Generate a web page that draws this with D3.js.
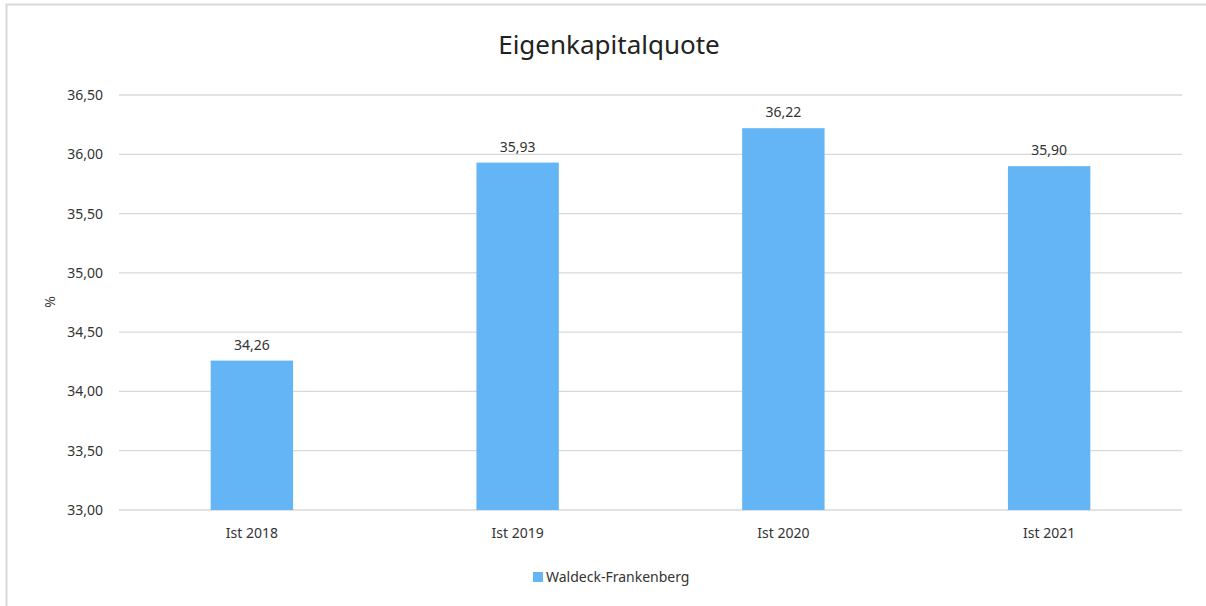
<!DOCTYPE html>
<html><head><meta charset="utf-8">
<script src="https://cdn.jsdelivr.net/npm/d3@7"></script>
<style>body{margin:0;background:#fff;}</style>
</head><body><svg id="c" width="1206" height="606"></svg>
<script>
const categories = ["Ist 2018","Ist 2019","Ist 2020","Ist 2021"];
const values = [34.26,35.93,36.22,35.90];
const yTicks = [33.0,33.5,34.0,34.5,35.0,35.5,36.0,36.5];
const seriesName = "Waldeck-Frankenberg";
const title = "Eigenkapitalquote";
const yLabel = "%";

const svg = d3.select("#c");
const font = "'Noto Sans', sans-serif";
const color = "#64B5F6";
const fmt = v => v.toFixed(2).replace(".", ",");
const fs = 14;

// outer border
svg.append("path").attr("d","M6.5,606 L6.5,4.5 L1206,4.5").attr("fill","none").attr("stroke","#d9d9d9").attr("stroke-width",2);

const m = {l:119, r:1182, t:95, b:510};
const x = d3.scaleBand().domain(categories).range([m.l,m.r]).paddingInner(0.69).paddingOuter(0.345);
const y = d3.scaleLinear().domain([33,36.5]).range([m.b,m.t]);

svg.append("g").selectAll("line").data(yTicks).join("line")
  .attr("x1",m.l).attr("x2",m.r).attr("y1",d=>y(d)).attr("y2",d=>y(d))
  .attr("stroke","#d9d9d9").attr("stroke-width",1.3);

svg.append("g").selectAll("text").data(yTicks).join("text")
  .attr("x",103).attr("y",d=>y(d)+5).attr("text-anchor","end")
  .attr("font-family",font).attr("font-size",fs).attr("fill","#333").text(d=>fmt(d));

svg.append("g").selectAll("rect").data(values).join("rect")
  .attr("x",(d,i)=>x(categories[i])).attr("width",x.bandwidth())
  .attr("y",d=>y(d)).attr("height",d=>y(33)-y(d)).attr("fill",color);

svg.append("g").selectAll("text").data(values).join("text")
  .attr("x",(d,i)=>x(categories[i])+x.bandwidth()/2).attr("y",d=>y(d)-11)
  .attr("text-anchor","middle").attr("font-family",font).attr("font-size",fs).attr("fill","#333").text(d=>fmt(d));

svg.append("g").selectAll("text").data(categories).join("text")
  .attr("x",d=>x(d)+x.bandwidth()/2).attr("y",538).attr("text-anchor","middle")
  .attr("font-family",font).attr("font-size",fs).attr("fill","#333").text(d=>d);

svg.append("text").attr("x",609).attr("y",54).attr("text-anchor","middle")
  .attr("font-family",font).attr("font-size",26).attr("fill","#222").text(title);

svg.append("text").attr("transform","translate(55,302) rotate(-90)").attr("text-anchor","middle")
  .attr("font-family",font).attr("font-size",fs).attr("fill","#333").text(yLabel);

const lg = svg.append("g");
lg.append("rect").attr("x",533).attr("y",572).attr("width",10).attr("height",10).attr("fill",color);
lg.append("text").attr("x",546).attr("y",582).attr("font-family",font).attr("font-size",fs).attr("fill","#333").text(seriesName);
</script></body></html>
